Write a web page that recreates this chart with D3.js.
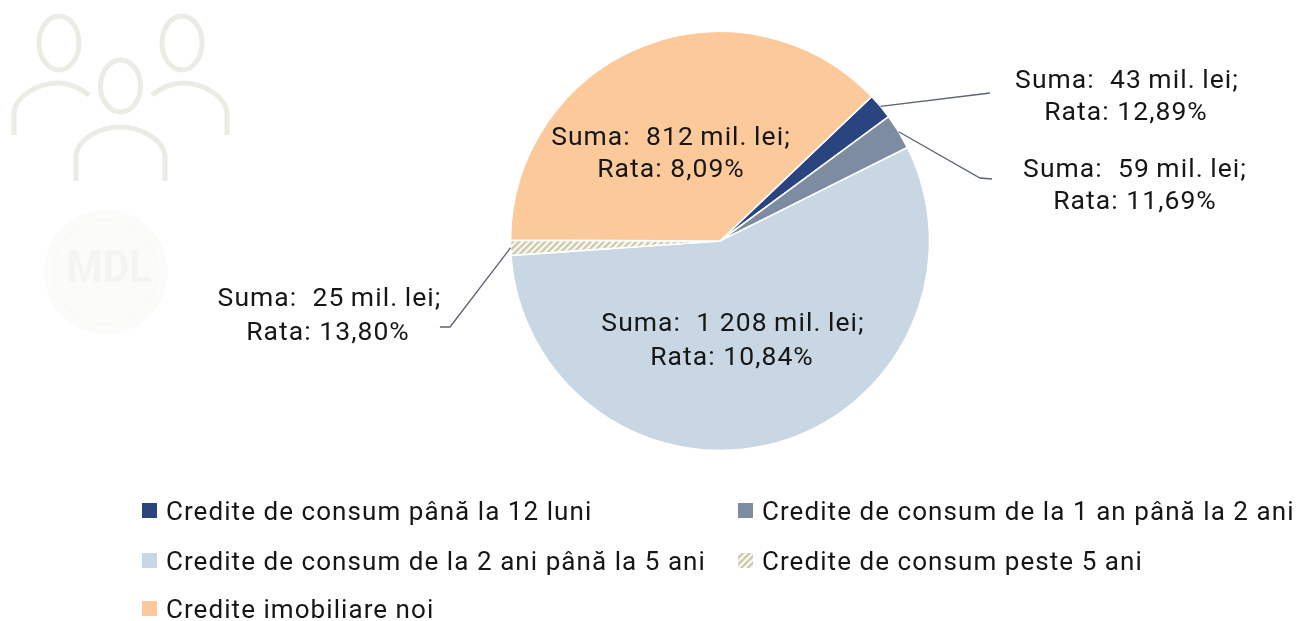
<!DOCTYPE html>
<html><head><meta charset="utf-8">
<script src="https://cdn.jsdelivr.net/npm/d3@7/dist/d3.min.js"></script>
<style>
html,body{margin:0;padding:0;background:#fff}
svg{display:block;filter:blur(0.45px)}
text{font-family:Roboto,sans-serif;white-space:pre;fill:#161616}
</style></head><body>
<script>
const categories=["Credite de consum până la 12 luni","Credite de consum de la 1 an până la 2 ani","Credite de consum de la 2 ani până la 5 ani","Credite de consum peste 5 ani","Credite imobiliare noi"];
const sums=[43,59,1208,25,812];
const sumLabels=["43","59","1 208","25","812"];
const rates=["12,89","11,69","10,84","13,80","8,09"];
const colors=["#2a4480","#7d8ca0","#c8d7e3","url(#hatch)","#fcc99b"];

const W=1298,H=621,cx=720,cy=241,R=209.5,FS=26,LS=1.06,LFS=26.5,LLS=1.05;
const svg=d3.select("body").append("svg").attr("width",W).attr("height",H);
const defs=svg.append("defs");
const p=defs.append("pattern").attr("id","hatch").attr("width",4.6).attr("height",4.6)
  .attr("patternUnits","userSpaceOnUse").attr("patternTransform","rotate(45)");
p.append("rect").attr("width",4.6).attr("height",4.6).attr("fill","#fbfaf3");
p.append("rect").attr("width",2.3).attr("height",4.6).attr("fill","#cbc7aa");

// decorative icons
const icon=svg.append("g").attr("fill","none").attr("stroke","#ecebe6").attr("stroke-width",5);
[[59,43,20,27],[182,43,20,27],[120.5,86,20,26]].forEach(e=>icon.append("ellipse").attr("cx",e[0]).attr("cy",e[1]).attr("rx",e[2]).attr("ry",e[3]));
icon.append("path").attr("d","M14,135V112C16,96 38,83 58,83C68,83 80,88 89,95");
icon.append("path").attr("d","M227,135V112C225,96 203,83 183,83C173,83 161,88 152,95");
icon.append("path").attr("d","M76,181V155C78,140 98,127 120,127C142,127 163,140 165,155V181");
svg.append("circle").attr("cx",106).attr("cy",272).attr("r",62).attr("fill","#fbfbf9");
svg.append("circle").attr("cx",106).attr("cy",272).attr("r",52).attr("fill","none").attr("stroke","#f9f9f7").attr("stroke-width",2);
svg.append("text").attr("x",109).attr("y",282).attr("text-anchor","middle").attr("font-size",44).attr("font-weight",700)
  .attr("textLength",85).attr("lengthAdjust","spacingAndGlyphs").style("fill","#f4f4f2").text("MDL");

// pie
const startDeg=46.4;
const start=startDeg*Math.PI/180;
const pie=d3.pie().sort(null).startAngle(start).endAngle(start+2*Math.PI);
const arcs=pie(sums);
const arc=d3.arc().innerRadius(0).outerRadius(R);
const g=svg.append("g").attr("transform",`translate(${cx},${cy})`);
g.selectAll("path").data(arcs).join("path").attr("d",arc)
  .attr("fill",(d,i)=>colors[i]).attr("stroke","#fff").attr("stroke-width",1.6).attr("stroke-linejoin","round");

// leader lines: start on the slice edge, then elbow
const leaders={0:[[982,94],[990,93]],1:[[980,178],[992,179]],3:[[450,327],[440,327]]};
Object.keys(leaders).forEach(k=>{
  const a=arcs[k],m=(a.startAngle+a.endAngle)/2;
  const pt=[cx+R*Math.sin(m),cy-R*Math.cos(m)];
  svg.append("path").attr("fill","none").attr("stroke","#5c6470").attr("stroke-width",1.3)
    .attr("d",d3.line()([pt,...leaders[k]]));
});

// labels
const labelPos=[[1127,88,1126,120],[1135,177,1135,209],[733,331,732,365],[329.5,306,328,340],[671,145,671,177]];
labelPos.forEach((q,i)=>{
  svg.append("text").attr("x",q[0]).attr("y",q[1]).attr("text-anchor","middle").attr("font-size",LFS)
    .attr("letter-spacing",LLS).text(`Suma:  ${sumLabels[i]}\u2009mil.\u2009lei;`);
  svg.append("text").attr("x",q[2]).attr("y",q[3]).attr("text-anchor","middle").attr("font-size",LFS)
    .attr("letter-spacing",LLS).text(`Rata: ${rates[i]}%`);
});

// legend
const legendPos=[[142,511],[738,511],[142,561],[738,561],[142,609]];
categories.forEach((c,i)=>{
  const [x,y]=legendPos[i];
  svg.append("rect").attr("x",x).attr("y",y-8).attr("width",15).attr("height",15).attr("fill",colors[i]);
  svg.append("text").attr("x",x+24).attr("y",y+9).attr("font-size",FS).attr("letter-spacing",LS).text(c);
});
</script>
</body></html>
